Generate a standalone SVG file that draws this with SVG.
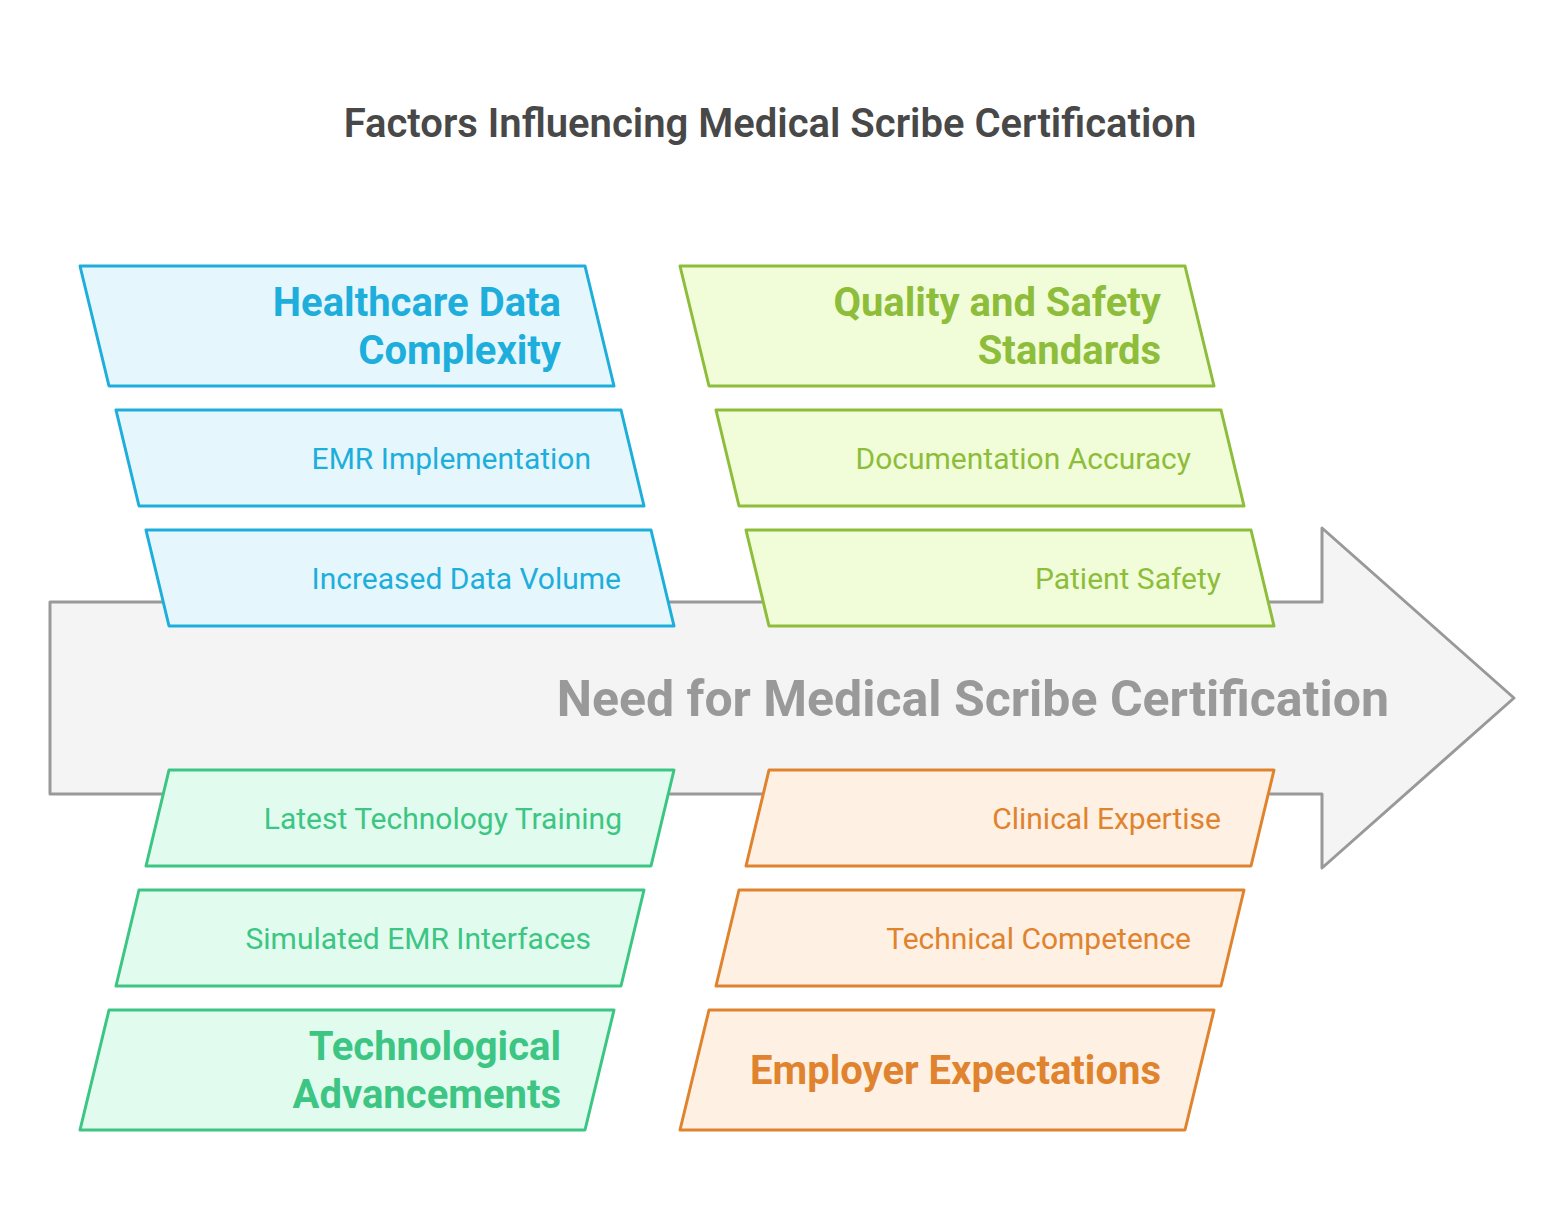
<svg xmlns="http://www.w3.org/2000/svg" width="1564" height="1228" viewBox="0 0 1564 1228">
<style>
text{font-family:Roboto,"Liberation Sans",sans-serif;text-anchor:end}
.title{font-size:40px;font-weight:600;fill:#484848;text-anchor:middle}
.main{font-size:50px;font-weight:700;fill:#999999}
.h{font-size:40px;font-weight:700}
.s{font-size:30px;font-weight:400}
.blue polygon{fill:#e5f7fd;stroke:#1eaedb;stroke-width:3;stroke-linejoin:round}
.blue text{fill:#1eaedb}
.lime polygon{fill:#f1fdd9;stroke:#8dbd3a;stroke-width:3;stroke-linejoin:round}
.lime text{fill:#8dbd3a}
.green polygon{fill:#e1fcef;stroke:#3cc583;stroke-width:3;stroke-linejoin:round}
.green text{fill:#3cc583}
.orange polygon{fill:#fef0e3;stroke:#e0832e;stroke-width:3;stroke-linejoin:round}
.orange text{fill:#e0832e}
</style>
<rect width="1564" height="1228" fill="#ffffff"/>
<text class="title" x="770" y="137">Factors Influencing Medical Scribe Certification</text>
<g id="main-arrow">
<polygon points="50,602 1322,602 1322,528 1514,698 1322,868 1322,794 50,794" fill="#f4f4f4" stroke="#999999" stroke-width="3" stroke-linejoin="round"/>
<text class="main" x="1389" y="716">Need for Medical Scribe Certification</text>
</g>
<g id="connectors"></g>
<g id="healthcare-data-complexity" class="blue">
<polygon points="80,266 585,266 614,386 109,386"/>
<text class="h" x="561" y="316">Healthcare Data</text>
<text class="h" x="561" y="364">Complexity</text>
</g>
<g id="emr-implementation" class="blue">
<polygon points="116,410 621,410 644,506 139,506"/>
<text class="s" x="591" y="469">EMR Implementation</text>
</g>
<g id="increased-data-volume" class="blue">
<polygon points="146,530 651,530 674,626 169,626"/>
<text class="s" x="621" y="589">Increased Data Volume</text>
</g>
<g id="quality-safety-standards" class="lime">
<polygon points="680,266 1185,266 1214,386 709,386"/>
<text class="h" x="1161" y="316">Quality and Safety</text>
<text class="h" x="1161" y="364">Standards</text>
</g>
<g id="documentation-accuracy" class="lime">
<polygon points="716,410 1221,410 1244,506 739,506"/>
<text class="s" x="1191" y="469">Documentation Accuracy</text>
</g>
<g id="patient-safety" class="lime">
<polygon points="746,530 1251,530 1274,626 769,626"/>
<text class="s" x="1221" y="589">Patient Safety</text>
</g>
<g id="latest-technology-training" class="green">
<polygon points="169,770 674,770 651,866 146,866"/>
<text class="s" x="622" y="829">Latest Technology Training</text>
</g>
<g id="simulated-emr-interfaces" class="green">
<polygon points="139,890 644,890 621,986 116,986"/>
<text class="s" x="591" y="949">Simulated EMR Interfaces</text>
</g>
<g id="technological-advancements" class="green">
<polygon points="109,1010 614,1010 585,1130 80,1130"/>
<text class="h" x="561" y="1060">Technological</text>
<text class="h" x="561" y="1108">Advancements</text>
</g>
<g id="clinical-expertise" class="orange">
<polygon points="769,770 1274,770 1251,866 746,866"/>
<text class="s" x="1221" y="829">Clinical Expertise</text>
</g>
<g id="technical-competence" class="orange">
<polygon points="739,890 1244,890 1221,986 716,986"/>
<text class="s" x="1191" y="949">Technical Competence</text>
</g>
<g id="employer-expectations" class="orange">
<polygon points="709,1010 1214,1010 1185,1130 680,1130"/>
<text class="h" x="1161" y="1084">Employer Expectations</text>
</g>
</svg>
